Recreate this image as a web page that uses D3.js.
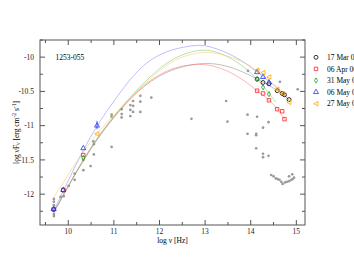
<!DOCTYPE html>
<html>
<head>
<meta charset="utf-8">
<script src="https://cdn.jsdelivr.net/npm/d3@7"></script>
<style>
  body { margin: 0; background: #fff; }
  svg { display: block; font-family: "Liberation Serif", "DejaVu Serif", serif; }
  .tick-label { font-size: 7.5px; fill: #222; }
</style>
</head>
<body>
<div id="chart"></div>
<script>
// log(nu) / log(nuF_nu) pairs
const epochs = ["17 Mar 06", "06 Apr 06", "31 May 06", "06 May 06", "27 May 06"];

const obsMar17 = [[9.68,-12.22],[9.89,-11.94],[14.14,-10.32],[14.27,-10.37],[14.40,-10.39],[14.58,-10.49],[14.69,-10.53],[14.74,-10.55],[14.84,-10.62]];
const obsApr06 = [[9.68,-12.22],[9.89,-11.94],[10.33,-11.43],[14.14,-10.49],[14.27,-10.53],[14.40,-10.63],[14.58,-10.76],[14.69,-10.79],[14.74,-10.905]];
const obsMay31 = [[10.33,-11.47],[14.14,-10.32],[14.27,-10.44],[14.40,-10.54]];
const obsMay06 = [[9.68,-12.22],[9.89,-11.94],[10.33,-11.33],[10.63,-11.0],[14.14,-10.22],[14.27,-10.29],[14.40,-10.37]];
const obsMay27 = [[10.63,-11.12],[14.14,-10.19],[14.27,-10.225],[14.40,-10.29],[14.58,-10.47],[14.69,-10.53],[14.84,-10.66]];

// model curves
const fitMar17 = [[9.68,-12.27],[10.0,-11.88],[10.34,-11.50],[10.71,-11.12],[11.10,-10.80],[11.44,-10.55],[11.80,-10.35],[12.17,-10.21],[12.53,-10.13],[12.90,-10.09],[13.15,-10.09],[13.51,-10.13],[13.88,-10.23],[14.14,-10.32],[14.40,-10.41],[14.69,-10.53],[14.86,-10.64]];
const fitApr06 = [[9.68,-12.27],[10.0,-11.88],[10.34,-11.48],[10.71,-11.11],[11.10,-10.79],[11.44,-10.54],[11.80,-10.33],[12.17,-10.19],[12.53,-10.12],[12.90,-10.10],[13.15,-10.12],[13.51,-10.20],[13.88,-10.35],[14.14,-10.49],[14.40,-10.62],[14.57,-10.74],[14.75,-10.91]];
const fitMay31 = [[9.68,-12.27],[10.0,-11.88],[10.34,-11.48],[10.71,-11.10],[11.10,-10.78],[11.44,-10.52],[11.80,-10.28],[12.17,-10.07],[12.53,-9.95],[12.90,-9.89],[13.15,-9.90],[13.51,-9.99],[13.88,-10.15],[14.14,-10.32],[14.40,-10.52],[14.55,-10.66]];
const fitMay06 = [[9.68,-12.25],[10.0,-11.80],[10.33,-11.35],[10.63,-11.0],[10.89,-10.74],[11.18,-10.48],[11.44,-10.25],[11.80,-10.03],[12.17,-9.91],[12.53,-9.85],[12.85,-9.82],[13.10,-9.84],[13.51,-9.94],[13.88,-10.08],[14.14,-10.22],[14.40,-10.35],[14.70,-10.52],[14.80,-10.60]];
const fitMay27 = [[9.65,-12.08],[10.20,-11.50],[10.63,-11.10],[11.10,-10.78],[11.44,-10.54],[11.80,-10.31],[12.17,-10.10],[12.53,-9.98],[12.90,-9.93],[13.15,-9.93],[13.51,-9.98],[13.88,-10.08],[14.14,-10.20],[14.40,-10.33],[14.68,-10.50],[14.90,-10.64]];

// archival data (grey)
const archive = [
  [9.685,-12.07],[9.685,-12.11],[9.685,-12.16],[9.685,-12.20],[9.685,-12.24],[9.685,-12.29],[9.685,-12.32],
  [9.83,-12.04],[9.90,-12.03],[10.01,-11.88],[10.14,-11.70],[10.14,-11.79],
  [10.33,-11.50],[10.33,-11.65],[10.49,-11.59],[10.55,-11.23],[10.56,-11.27],[10.56,-11.42],
  [10.95,-11.31],[10.95,-10.84],[10.95,-10.87],
  [11.17,-10.76],[11.17,-10.83],[11.17,-10.88],
  [11.36,-10.70],[11.36,-10.77],[11.36,-10.86],
  [11.42,-10.64],[11.42,-10.71],[11.42,-10.80],
  [11.58,-10.565],[11.58,-10.65],[11.58,-10.80],[11.82,-10.59],
  [12.70,-10.90],[13.46,-10.64],[13.49,-10.94],
  [13.94,-10.20],[13.93,-10.84],[14.14,-10.87],[14.39,-10.95],[14.27,-11.03],
  [13.93,-11.12],[14.12,-11.12],[14.12,-11.14],[14.12,-11.33],
  [14.27,-11.41],[14.27,-11.46],[14.39,-11.44],
  [14.64,-10.36],[15.03,-10.47],
  [14.45,-11.72],[14.50,-11.74],[14.55,-11.77],[14.59,-11.78],[14.63,-11.79],[14.67,-11.82],
  [14.70,-11.85],[14.75,-11.83],[14.79,-11.82],[14.84,-11.81],[14.89,-11.79],[14.92,-11.78],
  [14.95,-11.76],[14.84,-11.74],[14.91,-11.71]
];

const xTicks = [10, 11, 12, 13, 14, 15];
const yTicks = [-10, -10.5, -11, -11.5, -12];

const series = [
  {name: epochs[0], obs: obsMar17, fit: fitMar17, color: "#000000", line: "#808080", shape: "circle"},
  {name: epochs[1], obs: obsApr06, fit: fitApr06, color: "#ff2020", line: "#ff6a6a", shape: "square"},
  {name: epochs[2], obs: obsMay31, fit: fitMay31, color: "#22a022", line: "#66c466", shape: "diamond"},
  {name: epochs[3], obs: obsMay06, fit: fitMay06, color: "#2233ff", line: "#7a7aff", shape: "triangle"},
  {name: epochs[4], obs: obsMay27, fit: fitMay27, color: "#ffa500", line: "#ffc24a", shape: "left"}
];

const W = 354, H = 273;
const margin = {top: 40, right: 49, bottom: 48, left: 40};
const width = W - margin.left - margin.right;
const height = H - margin.top - margin.bottom;

const svg = d3.select("#chart").append("svg")
    .attr("width", W).attr("height", H);
const g = svg.append("g")
    .attr("transform", "translate(" + margin.left + "," + margin.top + ")");

const x = d3.scaleLinear().domain([9.38, 15.19]).range([0, width]);
const y = d3.scaleLinear().domain([-12.45, -9.75]).range([height, 0]);

// axes: ticks inward on all four sides
const minorX = d3.range(9.5, 15.2, 1);
const minorY = [-10.25, -10.75, -11.25, -11.75, -12.25, -9.75];

const axisG = g.append("g").attr("stroke", "#555").attr("stroke-width", 1);
xTicks.forEach(t => {
  axisG.append("line").attr("x1", x(t)).attr("x2", x(t)).attr("y1", height).attr("y2", height - 5);
  axisG.append("line").attr("x1", x(t)).attr("x2", x(t)).attr("y1", 0).attr("y2", 5);
});
minorX.forEach(t => {
  axisG.append("line").attr("x1", x(t)).attr("x2", x(t)).attr("y1", height).attr("y2", height - 3);
  axisG.append("line").attr("x1", x(t)).attr("x2", x(t)).attr("y1", 0).attr("y2", 3);
});
yTicks.forEach(t => {
  axisG.append("line").attr("y1", y(t)).attr("y2", y(t)).attr("x1", 0).attr("x2", 5);
  axisG.append("line").attr("y1", y(t)).attr("y2", y(t)).attr("x1", width).attr("x2", width - 5);
});
minorY.forEach(t => {
  axisG.append("line").attr("y1", y(t)).attr("y2", y(t)).attr("x1", 0).attr("x2", 3);
  axisG.append("line").attr("y1", y(t)).attr("y2", y(t)).attr("x1", width).attr("x2", width - 3);
});
g.append("rect").attr("width", width).attr("height", height)
    .attr("fill", "none").attr("stroke", "#555").attr("stroke-width", 1);

g.selectAll(".xl").data(xTicks).join("text")
    .attr("class", "tick-label")
    .attr("x", d => x(d)).attr("y", height + 8.5)
    .attr("text-anchor", "middle")
    .text(d => d);
g.selectAll(".yl").data(yTicks).join("text")
    .attr("class", "tick-label")
    .attr("x", -6).attr("y", d => y(d) + 2.6)
    .attr("text-anchor", "end")
    .text(d => d);

// axis titles
svg.append("text")
    .attr("x", margin.left + width / 2).attr("y", 243)
    .attr("text-anchor", "middle").attr("font-size", "7.5px")
    .text("log \u03bd [Hz]");
const yTitle = svg.append("text")
    .attr("transform", "translate(18.5," + (margin.top + height / 2) + ") rotate(-90)")
    .attr("text-anchor", "middle").attr("font-size", "7.5px");
yTitle.append("tspan").text("log \u03bdF");
yTitle.append("tspan").attr("dy", 1.5).attr("font-size", "5.5px").text("\u03bd");
yTitle.append("tspan").attr("dy", -1.5).text(" [erg cm");
yTitle.append("tspan").attr("dy", -3).attr("font-size", "5.5px").text("-2");
yTitle.append("tspan").attr("dy", 3).text(" s");
yTitle.append("tspan").attr("dy", -3).attr("font-size", "5.5px").text("-1");
yTitle.append("tspan").attr("dy", 3).text("]");

g.append("text")
    .attr("x", x(9.72)).attr("y", y(-10) + 2.6)
    .attr("font-size", "7.5px")
    .text("1253-055");

// archival points
g.selectAll(".arch").data(archive).join("circle")
    .attr("cx", d => x(d[0])).attr("cy", d => y(d[1]))
    .attr("r", 1.35).attr("fill", "#9a9a9a");

// model curves
const line = d3.line().x(d => x(d[0])).y(d => y(d[1])).curve(d3.curveBasis);
series.forEach(s => {
  g.append("path").datum(s.fit)
      .attr("d", line)
      .attr("fill", "none")
      .attr("stroke", s.line)
      .attr("stroke-width", 0.7)
      .attr("stroke-opacity", 0.7);
});

function markerPath(shape) {
  if (shape === "left") return "M-2.2,0L1.9,-2.2L1.9,2.2Z";
  const type = {circle: d3.symbolCircle, square: d3.symbolSquare, diamond: d3.symbolDiamond, triangle: d3.symbolTriangle}[shape];
  const size = {circle: 12, square: 12, diamond: 8, triangle: 11}[shape];
  return d3.symbol(type, size)();
}

// error bar on 06 May radio point
g.append("line")
    .attr("x1", x(10.63)).attr("x2", x(10.63))
    .attr("y1", y(-10.93)).attr("y2", y(-11.05))
    .attr("stroke", "#2233ff").attr("stroke-width", 0.8);

series.forEach(s => {
  g.selectAll(null).data(s.obs).join("path")
      .attr("transform", d => "translate(" + x(d[0]) + "," + y(d[1]) + ")")
      .attr("d", markerPath(s.shape))
      .attr("fill", "none")
      .attr("stroke", s.color)
      .attr("stroke-width", 0.8);
});

// legend
const legend = svg.append("g");
series.forEach((s, i) => {
  const ly = 57.3 + i * 11.6;
  legend.append("path")
      .attr("transform", "translate(316," + ly + ")")
      .attr("d", markerPath(s.shape))
      .attr("fill", "none").attr("stroke", s.color).attr("stroke-width", 0.8);
  legend.append("text")
      .attr("x", 327).attr("y", ly + 2.6)
      .attr("font-size", "7.5px")
      .text(s.name);
});
</script>
</body>
</html>
